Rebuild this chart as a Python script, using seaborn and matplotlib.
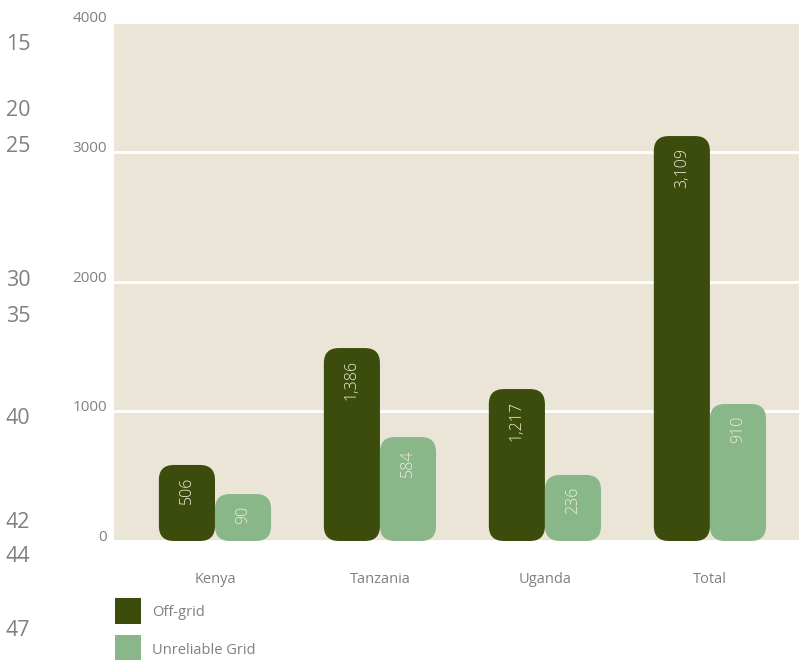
import pandas as pd
import matplotlib
matplotlib.use("Agg")
import matplotlib.pyplot as plt
from matplotlib.patches import FancyBboxPatch
import seaborn as sns

# ================================
#  Data
# ================================
countries = ["Kenya", "Tanzania", "Uganda", "Total"]
series = ["Off-grid", "Unreliable Grid"]
# drawn bar heights as they appear on the y scale
offgrid_height = [586, 1487, 1171, 3121]
unreliable_height = [362, 801, 509, 1056]
# printed values inside the bars
offgrid_labels = ["506", "1,386", "1,217", "3,109"]
unreliable_labels = ["90", "584", "236", "910"]
yticks = [0, 1000, 2000, 3000, 4000]
margin_numbers = ["15", "20", "25", "30", "35", "40", "42", "44", "47"]
margin_y = [45, 110, 146, 280, 316, 418, 523, 556, 631]  # px from top

dark = "#3b4c0c"
light = "#8ab78a"
bg = "#ebe5d7"
grey = "#808080"

df = pd.DataFrame({
    "Country": countries * 2,
    "Type": [series[0]] * 4 + [series[1]] * 4,
    "Value": offgrid_height + unreliable_height,
})

sns.set_style("white")
plt.rcParams["font.family"] = ["Open Sans", "DejaVu Sans"]

W, H = 799, 660
fig = plt.figure(figsize=(W / 100, H / 100), dpi=100)
ax_l, ax_b, ax_r, ax_t = 114, 541, 799, 22
ax = fig.add_axes([ax_l / W, 1 - ax_b / H, (ax_r - ax_l) / W, (ax_b - ax_t) / H])
ax.set_facecolor(bg)

sns.barplot(data=df, x="Country", y="Value", hue="Type", hue_order=series,
            palette=[dark, light], width=0.68, saturation=1, legend=False, ax=ax)

xlim = (-0.612, 3.54)
ylim = (0, 4000)
ax.set_xlim(*xlim)
ax.set_ylim(*ylim)

# data units per pixel
ux = (xlim[1] - xlim[0]) / (ax_r - ax_l)
uy = (ylim[1] - ylim[0]) / (ax_b - ax_t)
aspect = uy / ux
radius_px = 15

labels_all = [offgrid_labels, unreliable_labels]
for cont, labs, col in zip(ax.containers, labels_all, [dark, light]):
    for bar, lab in zip(cont, labs):
        x, w, h = bar.get_x(), bar.get_width(), bar.get_height()
        bar.set_visible(False)
        rb = FancyBboxPatch((x, 0), w, h,
                            boxstyle=f"round,pad=0,rounding_size={radius_px * ux}",
                            mutation_aspect=aspect, facecolor=col, edgecolor="none",
                            zorder=3)
        ax.add_patch(rb)
        ax.text(x + w / 2, h - 12 * uy, lab, rotation=90, ha="center", va="top",
                color="#eeeedd", fontsize=11.5, fontweight="light", zorder=4)

ax.set_yticks(yticks)
ax.set_yticklabels([str(t) for t in yticks])
for lbl in ax.get_yticklabels():
    lbl.set_va("baseline")
ax.yaxis.grid(True, color="white", linewidth=2)
ax.set_axisbelow(True)
ax.tick_params(axis="y", length=0, pad=5, labelsize=11, labelcolor=grey)
ax.tick_params(axis="x", length=0, pad=22, labelsize=10.5, labelcolor=grey)
ax.set_xlabel("")
ax.set_ylabel("")
for s in ax.spines.values():
    s.set_visible(False)

# legend below the plot
for i, (name, col) in enumerate(zip(series, [dark, light])):
    top = 598 + i * 37
    fig.patches.append(plt.Rectangle((115 / W, 1 - (top + 26) / H), 26 / W, 26 / H,
                                     transform=fig.transFigure, facecolor=col,
                                     edgecolor="none", figure=fig))
    fig.text(152 / W, 1 - (top + 15) / H, name, ha="left", va="center",
             fontsize=10.5, color=grey)

# stray margin numbers
for t, yp in zip(margin_numbers, margin_y):
    fig.text(6 / W, 1 - yp / H, t, ha="left", va="center", fontsize=15.5, color=grey)

fig.savefig("out.png", dpi=100)
